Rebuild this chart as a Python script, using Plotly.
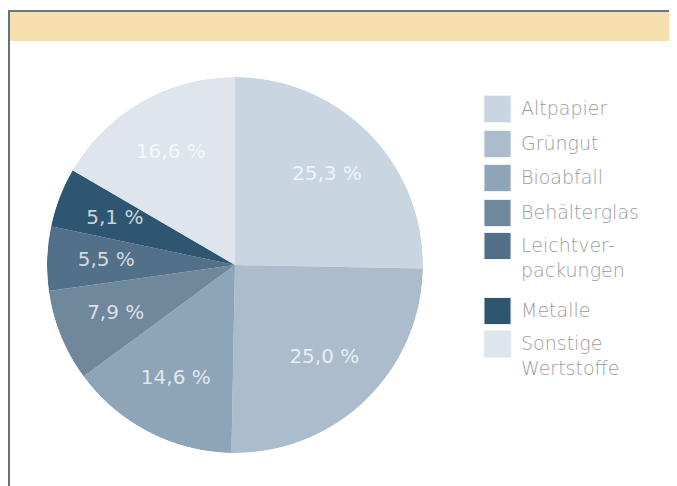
import plotly.graph_objects as go

W, H = 677, 486
OFF = 8  # page body margin of the generated html

categories = ["Altpapier", "Grüngut", "Bioabfall", "Behälterglas",
              "Leichtver-<br>packungen", "Metalle", "Sonstige<br>Wertstoffe"]
values = [25.3, 25.0, 14.6, 7.9, 5.5, 5.1, 16.6]
value_labels = ["25,3 %", "25,0 %", "14,6 %", "7,9 %", "5,5 %", "5,1 %", "16,6 %"]
colors = ["#c9d6e1", "#abbdcc", "#8ea4b7", "#6f889c", "#52708a", "#2f5670", "#dee5ec"]


def px(x):
    return (x - OFF) / W


def py(y):
    return 1 - (y - OFF) / H


# slice geometry derived from the data (degrees, clockwise from 12 o'clock)
total = sum(values)
widths = [v / total * 360 for v in values]
mids = []
acc = 0.0
for w in widths:
    mids.append(acc + w / 2)
    acc += w

cx, cy, r = 235, 265, 188

fig = go.Figure()
fig.add_trace(go.Barpolar(
    r=[1] * len(values),
    theta=mids,
    width=widths,
    marker=dict(color=colors, line=dict(width=0)),
    hovertext=[c.replace("<br>", " ") for c in categories],
    hoverinfo="text",
    showlegend=False,
))
fig.add_trace(go.Scatterpolar(
    r=[0.685] * len(values),
    theta=mids,
    mode="text",
    text=value_labels,
    textposition="middle center",
    textfont=dict(family="DejaVu Sans, sans-serif", size=20, color="rgba(255,255,255,0.75)"),
    hoverinfo="skip",
    showlegend=False,
))

shapes = [
    # header band
    dict(type="rect", xref="paper", yref="paper", x0=px(9), x1=1.01, y0=py(41), y1=py(12),
         fillcolor="#f6dead", line=dict(width=0), layer="below"),
    # top border
    dict(type="line", xref="paper", yref="paper", x0=px(8), x1=1.01, y0=py(11), y1=py(11),
         line=dict(color="#66787f", width=2)),
    # left border
    dict(type="line", xref="paper", yref="paper", x0=px(9), x1=px(9), y0=-0.01, y1=py(10),
         line=dict(color="#5f7282", width=2)),
]

annotations = []
leg_x0 = 484
leg_w, leg_h = 27, 27
leg_ys = [109, 144, 178, 213, 246, 311, 344]
for lab, col, yc in zip(categories, colors, leg_ys):
    shapes.append(dict(type="rect", xref="paper", yref="paper",
                       x0=px(leg_x0), x1=px(leg_x0 + leg_w),
                       y0=py(yc + leg_h / 2), y1=py(yc - leg_h / 2),
                       fillcolor=col, line=dict(color="#eef1f4", width=1)))
    annotations.append(dict(xref="paper", yref="paper", x=px(519), y=py(yc - 14),
                            text=lab, showarrow=False, xanchor="left", yanchor="top",
                            align="left",
                            font=dict(family="DejaVu Sans, sans-serif", size=19,
                                      color="#9c9c9c", weight=300)))

fig.update_layout(
    width=W, height=H,
    margin=dict(l=0, r=0, t=0, b=0),
    paper_bgcolor="white",
    plot_bgcolor="white",
    polar=dict(
        domain=dict(x=[px(cx - r), px(cx + r)], y=[py(cy + r), py(cy - r)]),
        bgcolor="rgba(0,0,0,0)",
        bargap=0,
        hole=0,
        radialaxis=dict(range=[0, 1], visible=False),
        angularaxis=dict(rotation=90, direction="clockwise", visible=False,
                         showgrid=False, showline=False, ticks=""),
    ),
    shapes=shapes,
    annotations=annotations,
)

fig.write_html("out.html")
